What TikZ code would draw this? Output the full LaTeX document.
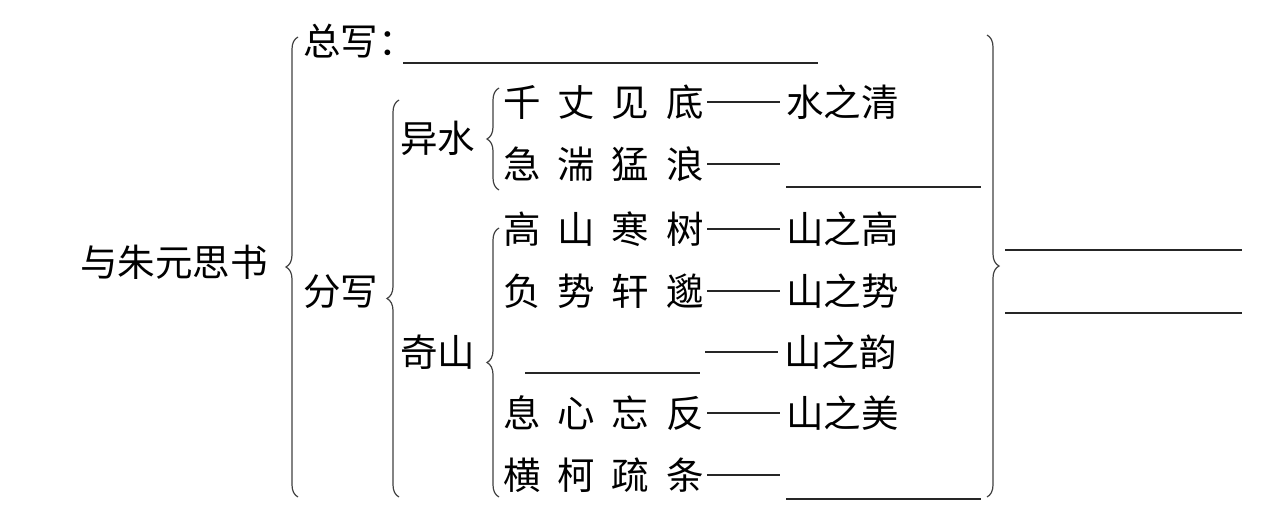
\documentclass[tikz,border=0pt]{standalone}
\usepackage{fontspec}
\newfontfamily\cjk{Noto Sans CJK SC}
\usepackage{tikz}
\usetikzlibrary{positioning, decorations.pathreplacing, calc}
\newcommand{\zg}{\hspace{0.45em}}

\begin{document}
\begin{tikzpicture}[x=1pt, y=-1pt,
                txt/.style={anchor=west, inner sep=0pt, font=\fontsize{37.5}{40}\selectfont\cjk},
                brc/.style={decorate, decoration={brace, amplitude=12pt}, line width=1.2pt, draw=black!75},
                edge/.style={line width=1.4pt, draw=black!85},
                blank/.style={line width=1.6pt, draw=black!85}
            ]
            \useasboundingbox (0,0) rectangle (1276,517);

            % Knoten
            \node[txt] (title) at (80,262) {与朱元思书};
            \node[txt] (zong) at (303,41) {总写：};
            \node[txt] (fen) at (303,292) {分写};
            \node[txt] (yi) at (400,138) {异水};
            \node[txt] (qi) at (400,352) {奇山};

            \node[txt] (q1) at (503,102) {千\zg 丈\zg 见\zg 底};
            \node[txt] (q2) at (503,164) {急\zg 湍\zg 猛\zg 浪};
            \node[txt] (q3) at (503,229) {高\zg 山\zg 寒\zg 树};
            \node[txt] (q4) at (503,291) {负\zg 势\zg 轩\zg 邈};
            \coordinate (q5) at (702,352);
            \node[txt] (q6) at (503,413) {息\zg 心\zg 忘\zg 反};
            \node[txt] (q7) at (503,475) {横\zg 柯\zg 疏\zg 条};

            \node[txt, right=82pt of q1] (a1) {水之清};
            \coordinate[right=82pt of q2] (a2);
            \node[txt, right=82pt of q3] (a3) {山之高};
            \node[txt, right=82pt of q4] (a4) {山之势};
            \node[txt, right=82pt of q5] (a5) {山之韵};
            \node[txt, right=82pt of q6] (a6) {山之美};
            \coordinate[right=82pt of q7] (a7);

            % Klammern
            \draw[brc] (298,497) -- (298,37);
            \draw[brc] (399,497) -- (399,100);
            \draw[brc] (499,190) -- (499,88);
            \draw[brc] (499,497) -- (499,228);
            \draw[brc] (987,35) -- (987,497);

            % Kanten zwischen Knoten
            \foreach \i in {1,...,7} {
                \draw[edge] ([xshift=3pt]q\i.east) -- ([xshift=-6pt]a\i.west);
            }

            % Leerstellen
            \draw[blank] (403,63) -- (818,63);
            \draw[blank] ([yshift=-23pt]a2) -- ++(195,0);
            \draw[blank] (525,373) -- (700,373);
            \draw[blank] ([yshift=-24pt]a7) -- ++(195,0);
            \draw[blank] (1005,250) -- (1242,250);
            \draw[blank] (1005,313) -- (1242,313);

        \end{tikzpicture}
\end{document}
